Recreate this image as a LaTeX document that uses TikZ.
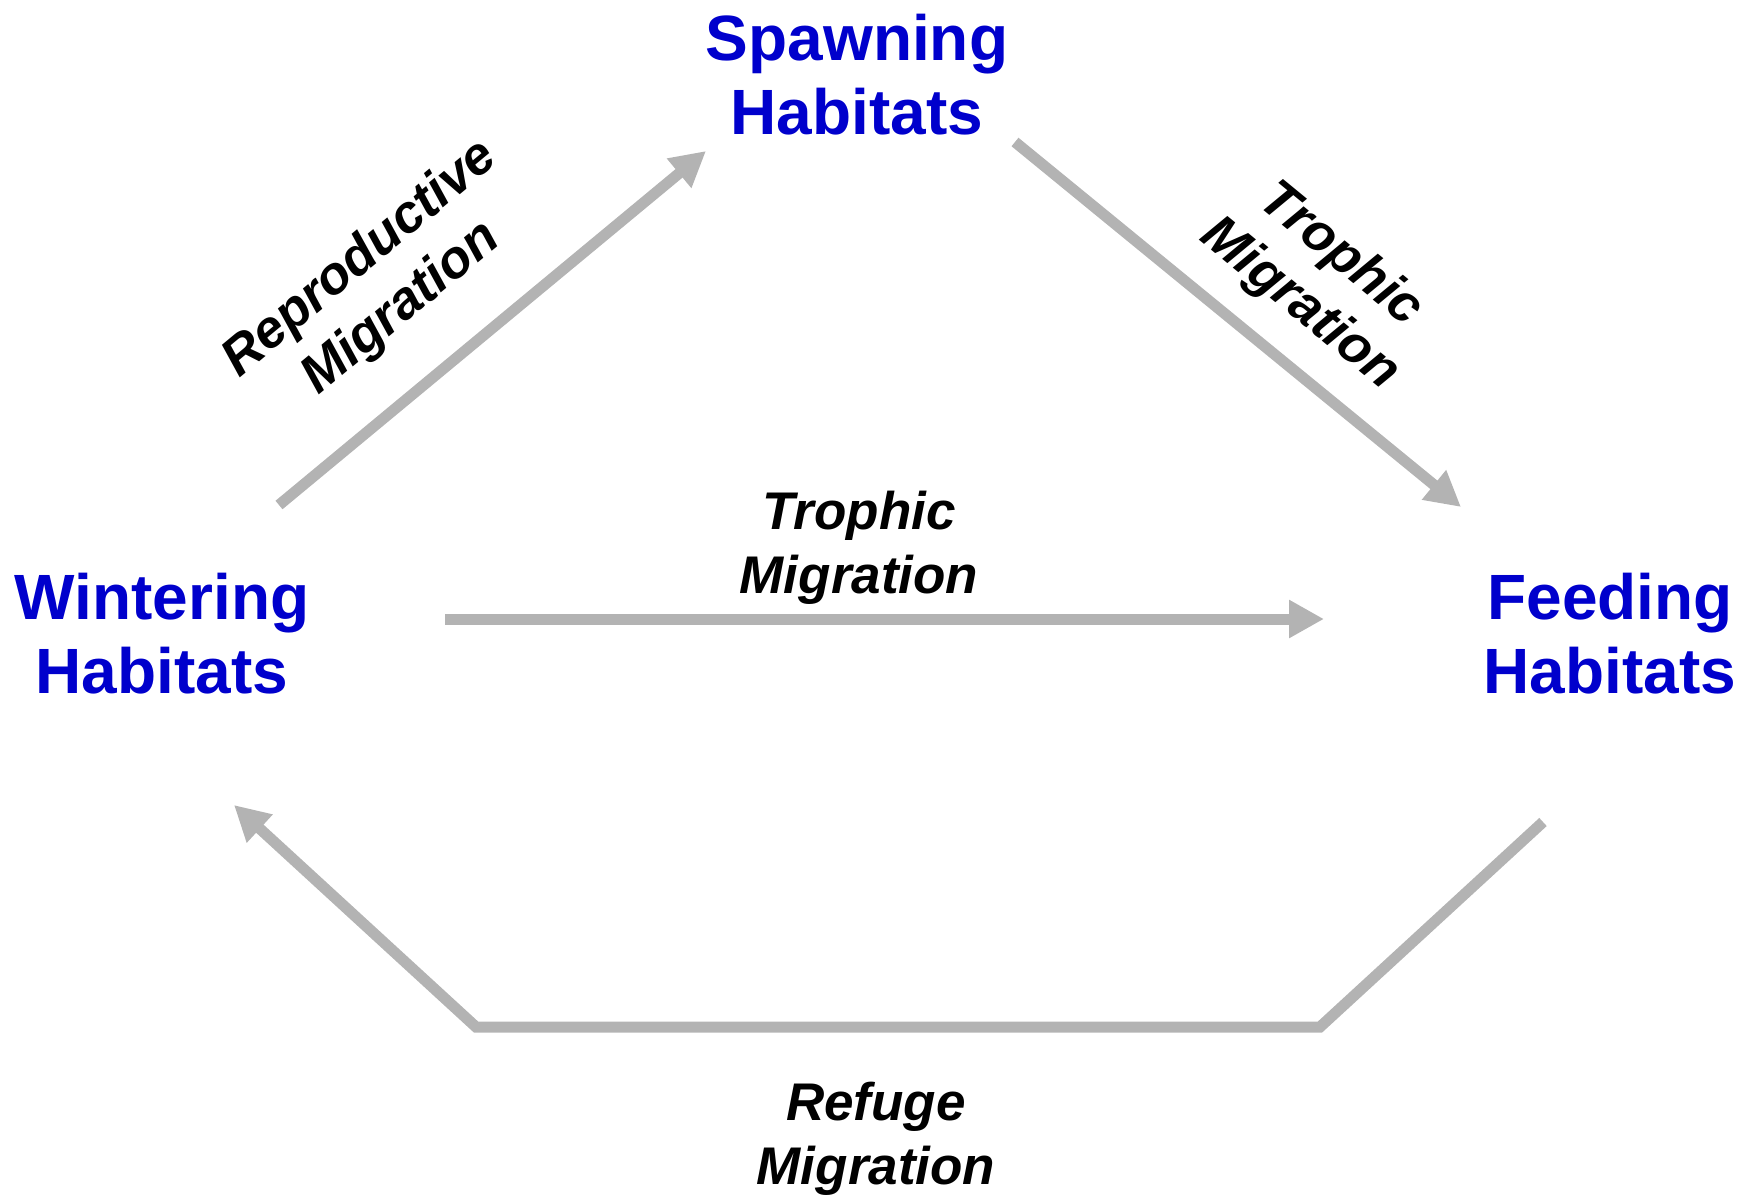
\documentclass[tikz,border=0pt]{standalone}
\usepackage{fontspec}
\setmainfont{Liberation Sans}
\usetikzlibrary{arrows.meta}
\definecolor{habblue}{HTML}{0000CC}
\definecolor{arrgrey}{HTML}{B3B3B3}
\begin{document}
\begin{tikzpicture}[x=1pt,y=-1pt,
  habitat/.style={text=habblue,font=\bfseries\fontsize{64}{74}\selectfont,align=center,inner sep=0pt},
  miglabel/.style={text=black,font=\bfseries\itshape\fontsize{53}{64}\selectfont,align=center,inner sep=0pt},
  migarrow/.style={draw=arrgrey,line width=11pt,-{Triangle[length=35pt,width=36pt]}},
  migline/.style={draw=arrgrey,line width=11pt,line join=miter}]
\useasboundingbox (0,0) rectangle (1749,1199);
% habitats
\node[habitat] (spawn) at (857,75) {Spawning\\Habitats};
\node[habitat] (winter) at (162,634) {Wintering\\Habitats};
\node[habitat] (feed) at (1610,634) {Feeding\\Habitats};
% labels
\node[miglabel,rotate=39.7] (repro) at (381,284) {Reproductive\\Migration};
\node[miglabel,rotate=-39.4] (troph1) at (1320,280) {Trophic\\Migration};
\node[miglabel] (troph2) at (859,548) {Trophic\\Migration};
\node[miglabel] (refuge) at (876,1139) {Refuge\\Migration};
% arrow end points
\coordinate (rs) at (279,505);
\coordinate (re) at (706,151);
\coordinate (ts) at (1015,142);
\coordinate (te) at (1461,507);
\coordinate (hs) at (445,619);
\coordinate (he) at (1324,619);
\coordinate (fs) at (1543,822);
\coordinate (fc1) at (1320,1027);
\coordinate (fc2) at (476,1027);
\coordinate (fe) at (234,805);
% arrows
\draw[migarrow] (rs) -- (re);
\draw[migarrow] (ts) -- (te);
\draw[migarrow] (hs) -- (he);
\draw[migarrow,line join=miter] (fs) -- (fc1) -- (fc2) -- (fe);
\end{tikzpicture}
\end{document}
